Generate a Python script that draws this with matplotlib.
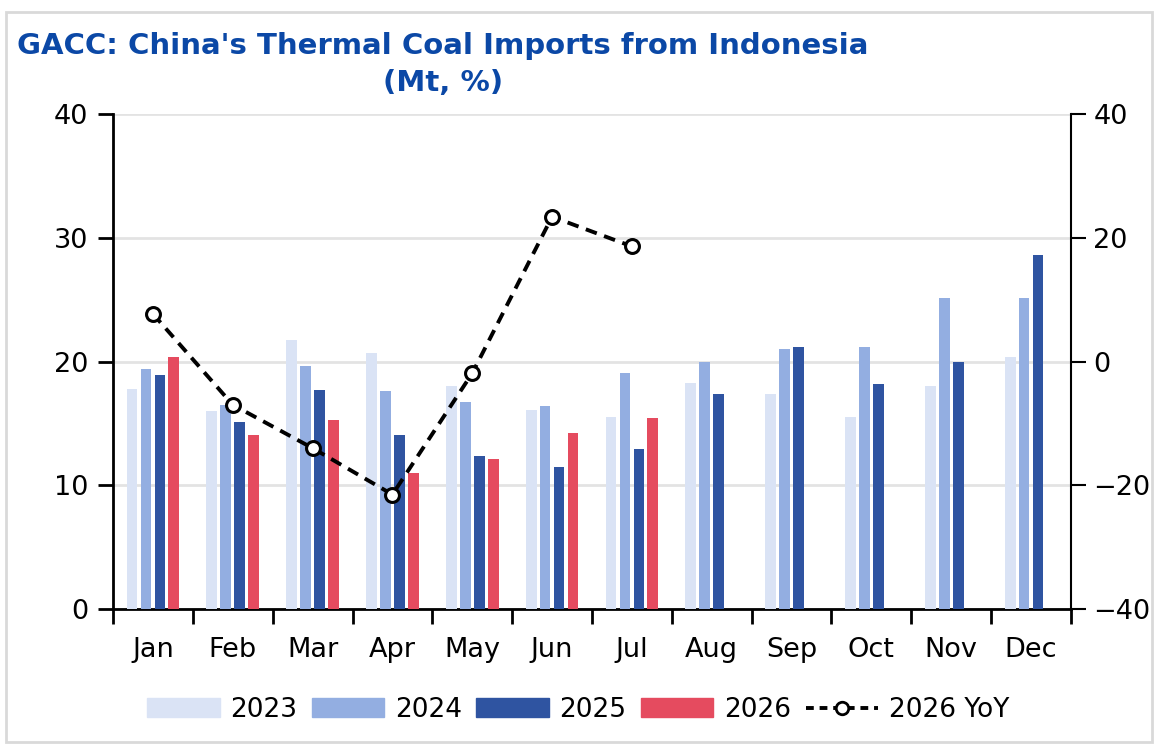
import matplotlib
matplotlib.use("Agg")
import matplotlib.pyplot as plt
import numpy as np
from matplotlib.patches import Rectangle
from matplotlib.lines import Line2D

months = ["Jan", "Feb", "Mar", "Apr", "May", "Jun", "Jul", "Aug", "Sep", "Oct", "Nov", "Dec"]
imports_2023 = [17.8, 16.0, 21.7, 20.7, 18.0, 16.1, 15.5, 18.3, 17.4, 15.5, 18.0, 20.4]
imports_2024 = [19.4, 16.5, 19.6, 17.6, 16.7, 16.4, 19.1, 20.0, 21.0, 21.2, 25.1, 25.1]
imports_2025 = [18.9, 15.1, 17.7, 14.1, 12.4, 11.5, 12.9, 17.4, 21.2, 18.2, 20.0, 28.6]
imports_2026 = [20.4, 14.1, 15.3, 11.0, 12.1, 14.2, 15.4]
yoy_2026 = [7.7, -7.0, -14.0, -21.5, -1.9, 23.4, 18.6]

series_labels = ["2023", "2024", "2025", "2026"]
colors = ["#dae3f5", "#93aee1", "#2f54a1", "#e54b5f"]
title_color = "#0b48a6"

plt.rcParams['font.family'] = ['DejaVu Sans']

fig = plt.figure(figsize=(11.58, 7.5), dpi=100)
ax = fig.add_axes([113/1158, 1-609/750, (1071-113)/1158, (609-114)/750])
ax2 = ax.twinx()

x = np.arange(len(months))
pitch = 0.175
width = 0.135
all_series = [imports_2023, imports_2024, imports_2025, imports_2026]
for i, (vals, c, lab) in enumerate(zip(all_series, colors, series_labels)):
    xs = x[:len(vals)] + (i - 1.5) * pitch
    ax.bar(xs, vals, width=width, color=c, label=lab, zorder=3)

ax.set_ylim(0, 40)
ax.set_yticks([0, 10, 20, 30, 40])
ax.set_xlim(-0.5, 11.5)
ax.set_xticks(x)
ax.set_xticklabels(months)
ax.set_xticks(np.arange(-0.5, 12, 1), minor=True)
ax.tick_params(axis='x', which='major', length=0, pad=20, labelsize=19.5)
ax.tick_params(axis='x', which='minor', length=11, width=2, direction='out')
ax.tick_params(axis='y', length=11, width=2, direction='out', pad=7, labelsize=19.5)
ax.grid(axis='y', color='#e3e3e3', linewidth=2, zorder=0)
ax.set_axisbelow(True)
for s in ['top']:
    ax.spines[s].set_visible(False)
    ax2.spines[s].set_visible(False)
ax.spines['right'].set_visible(False)
for s in ['left', 'bottom']:
    ax.spines[s].set_linewidth(2)
ax2.spines['right'].set_linewidth(1.5)
ax2.spines['left'].set_visible(False)
ax2.spines['bottom'].set_visible(False)

ax2.plot(x[:len(yoy_2026)], yoy_2026, color='black', linestyle=(0, (3, 2)), linewidth=2.8,
         marker='o', markersize=10, markerfacecolor='white', markeredgecolor='black',
         markeredgewidth=2.2, zorder=5, label="2026 YoY")
ax2.set_ylim(-40, 40)
ax2.set_yticks([-40, -20, 0, 20, 40])
ax2.set_yticklabels(["\u221240", "\u221220", "0", "20", "40"])
ax2.tick_params(axis='y', length=11, width=1.5, direction='out', pad=5, labelsize=19.5)

# Title
fig.text(443/1158, 1-46/750, "GACC: China's Thermal Coal Imports from Indonesia",
         ha='center', va='center', fontsize=21, fontweight='bold', color=title_color)
fig.text(443/1158, 1-83/750, "(Mt, %)", ha='center', va='center', fontsize=21,
         fontweight='bold', color=title_color)

# Legend
handles = [Rectangle((0, 0), 1, 1, color=c) for c in colors]
handles.append(Line2D([0], [0], color='black', linestyle=(0, (2, 1.5)), linewidth=2.8,
                      marker='o', markersize=9, markerfacecolor='white',
                      markeredgecolor='black', markeredgewidth=2))
labels = series_labels + ["2026 YoY"]
fig.legend(handles, labels, loc='center', bbox_to_anchor=(578/1158, 1-710/750), ncol=5,
           frameon=False, fontsize=19, handlelength=2.75, handleheight=0.72,
           handletextpad=0.4, columnspacing=0.55)

# Outer frame
fig.patches.append(Rectangle((6/1158, 1-742/750), (1152-6)/1158, (742-12)/750,
                             transform=fig.transFigure, fill=False,
                             edgecolor='#d9d9d9', linewidth=2))

fig.savefig("out.png", dpi=100)
